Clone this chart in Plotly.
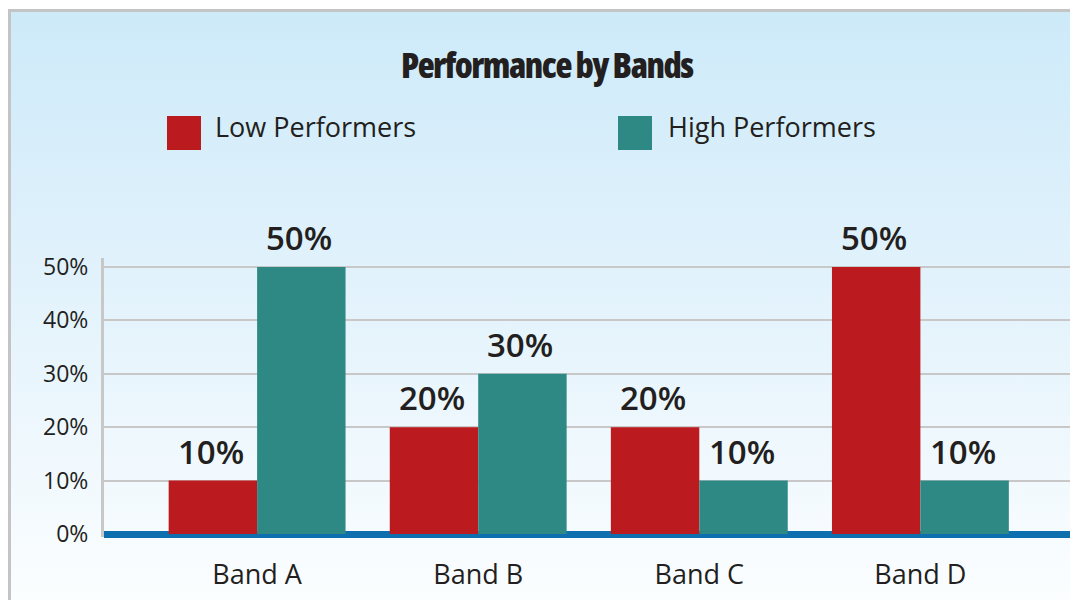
import base64
import plotly.graph_objects as go

categories = ["Band A", "Band B", "Band C", "Band D"]
low_performers = [10, 20, 20, 50]
high_performers = [50, 30, 10, 10]
series_names = ["Low Performers", "High Performers"]
y_ticks = [0, 10, 20, 30, 40, 50]
y_tick_labels = [f"{v}%" for v in y_ticks]
title_text = "Performance by Bands"

RED = "#bb1a1f"
TEAL = "#2e8985"
TXT = "#231f20"
FONT = "Open Sans, Lato, sans-serif"

W, H = 1070, 600
L, R, T, B = 104, 0, 258, 63
PW, PH = W - L - R, H - T - B


def px_x(x):
    return (x - L) / PW


def px_y(y):
    return (H - B - y) / PH


# background gradient panel as an inline SVG image
svg = (
    '<svg xmlns="http://www.w3.org/2000/svg" width="1080" height="600" viewBox="0 0 1080 600" preserveAspectRatio="none">'
    '<defs><linearGradient id="g" x1="0" y1="0" x2="0" y2="1">'
    '<stop offset="0" stop-color="#cdeaf9"/><stop offset="0.5" stop-color="#e4f3fc"/>'
    '<stop offset="1" stop-color="#fcfeff"/></linearGradient></defs>'
    '<rect x="0" y="0" width="1080" height="600" fill="url(#g)"/>'
    '<line x1="1.5" y1="0" x2="1.5" y2="600" stroke="#c4c4c4" stroke-width="3"/>'
    '<line x1="0" y1="1.5" x2="1080" y2="1.5" stroke="#c4c4c4" stroke-width="3"/>'
    '</svg>'
)
svg_uri = "data:image/svg+xml;base64," + base64.b64encode(svg.encode()).decode()

fig = go.Figure()
fig.add_trace(go.Bar(x=categories, y=low_performers, name=series_names[0],
                     marker=dict(color=RED, line=dict(width=0)), showlegend=False))
fig.add_trace(go.Bar(x=categories, y=high_performers, name=series_names[1],
                     marker=dict(color=TEAL, line=dict(width=0)), showlegend=False))

step = 221.1
x0 = 257.1
x_range = [(L - x0) / step, (W - R - x0) / step]
y_per = 5.34
y_range = [-(3) / y_per, 50 + (9) / y_per]

bar_px = 0.4 * step
annotations = []
for i, c in enumerate(categories):
    for vals, shift in ((low_performers, -bar_px / 2), (high_performers, bar_px / 2)):
        annotations.append(dict(
            x=c, y=vals[i], xref="x", yref="y", text=f"{vals[i]}%",
            showarrow=False, xshift=shift - 2, yshift=5, yanchor="bottom",
            font=dict(family=FONT, size=33, color=TXT, weight=600),
        ))

annotations.append(dict(
    x=px_x(547), y=px_y(64), xref="paper", yref="paper",
    text='<span style="font-stretch:condensed;letter-spacing:-1.5px">' + title_text + '</span>',
    showarrow=False, xanchor="center", yanchor="middle",
    font=dict(family="Open Sans, sans-serif", size=35, color=TXT, weight=800),
))

shapes = []
for (sx, tx, col, name) in ((167, 215, RED, series_names[0]), (618, 668, TEAL, series_names[1])):
    shapes.append(dict(type="rect", xref="paper", yref="paper",
                       x0=px_x(sx), x1=px_x(sx + 34), y0=px_y(150), y1=px_y(116),
                       fillcolor=col, line=dict(width=0), layer="above"))
    annotations.append(dict(
        x=px_x(tx - 2), y=px_y(127), xref="paper", yref="paper", text=name,
        showarrow=False, xanchor="left", yanchor="middle",
        font=dict(family=FONT, size=27, color=TXT),
    ))

fig.update_layout(
    width=W, height=H,
    margin=dict(l=L, r=R, t=T, b=B, autoexpand=False),
    paper_bgcolor="white", plot_bgcolor="rgba(0,0,0,0)",
    barmode="group", bargap=0.2, bargroupgap=0,
    annotations=annotations, shapes=shapes,
    images=[dict(source=svg_uri, xref="paper", yref="paper",
                 x=px_x(8), y=px_y(9), sizex=px_x(W + 20) - px_x(8),
                 sizey=px_y(9) - px_y(H + 10), xanchor="left", yanchor="top",
                 sizing="stretch", layer="below")],
    xaxis=dict(range=x_range, showgrid=False, zeroline=False, showline=False,
               ticks="", ticklabelstandoff=19,
               tickfont=dict(family=FONT, size=27, color=TXT)),
    yaxis=dict(range=y_range, tickvals=y_ticks, ticktext=y_tick_labels,
               showgrid=True, gridcolor="#c8c8c8", gridwidth=2,
               zeroline=True, zerolinecolor="#0e6fae", zerolinewidth=7,
               showline=True, linecolor="#c8c8c8", linewidth=3,
               ticks="", ticklabelstandoff=8,
               tickfont=dict(family=FONT, size=23, color=TXT)),
)

fig.write_html("out.html")
